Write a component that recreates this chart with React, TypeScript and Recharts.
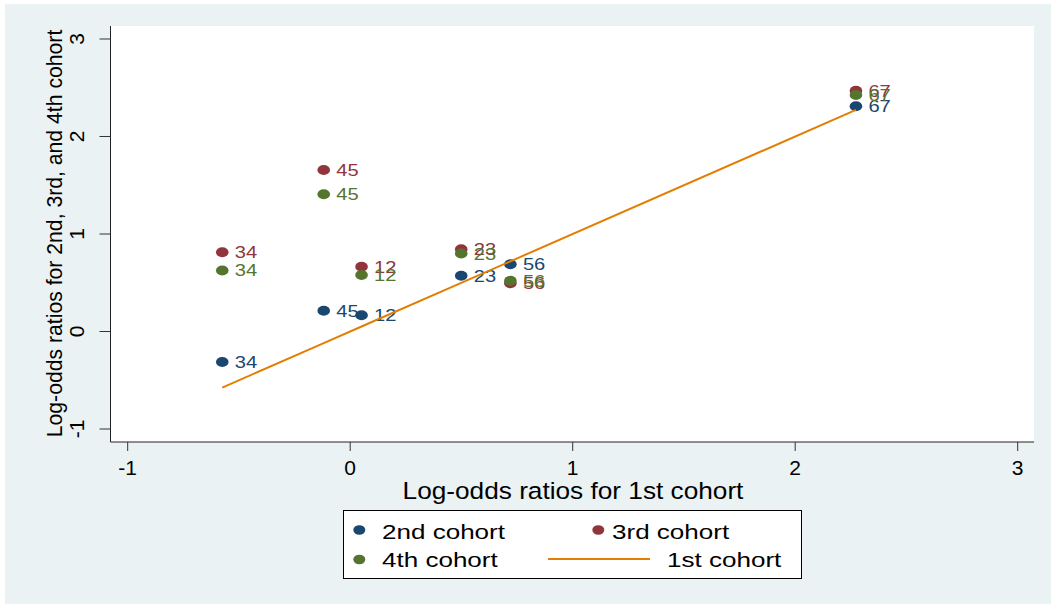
import React from 'react';
import { ScatterChart, Scatter, XAxis, YAxis, CartesianGrid } from 'recharts';

// ---- data ----
const pairLabels = ['12', '23', '34', '45', '56', '67'];
const firstCohort = [0.051, 0.499, -0.575, -0.119, 0.72, 2.273];
const secondCohort = [0.166, 0.571, -0.313, 0.212, 0.69, 2.311];
const thirdCohort = [0.665, 0.844, 0.813, 1.656, 0.495, 2.469];
const fourthCohort = [0.579, 0.8, 0.626, 1.408, 0.52, 2.426];
const xTicks = [-1, 0, 1, 2, 3];
const yTicks = [-1, 0, 1, 2, 3];
const legendNames = ['2nd cohort', '3rd cohort', '4th cohort', '1st cohort'];

const COLORS = { c2: '#1a476f', c3: '#90353b', c4: '#55752f', c1: '#e37e00' };
const FONT = '"Liberation Sans", Arial, Helvetica, sans-serif';

const build = (ys: number[]) =>
  firstCohort.map((x, i) => ({ x, y: ys[i], label: pairLabels[i] }));

const s2 = build(secondCohort);
const s3 = build(thirdCohort);
const s4 = build(fourthCohort);
const lineData = [...firstCohort].sort((a, b) => a - b).map((v) => ({ x: v, y: v }));

const WideText = ({ x, y, sx, size, fill, anchor, children }: any) => (
  <text
    transform={`translate(${x},${y}) scale(${sx},1)`}
    x={0}
    y={0}
    fontSize={size}
    fontFamily={FONT}
    fill={fill}
    textAnchor={anchor || 'start'}
  >
    {children}
  </text>
);

const makeShape = (color: string) => (props: any) => {
  const { cx, cy, payload } = props;
  if (cx == null || cy == null) return <g />;
  return (
    <g>
      <ellipse cx={cx} cy={cy} rx={6.3} ry={5} fill={color} />
      <WideText x={cx + 12.5} y={cy + 6} sx={1.22} size={16.5} fill={color}>
        {payload.label}
      </WideText>
    </g>
  );
};

const XTick = (props: any) => {
  const { x, y, payload } = props;
  return (
    <text x={x} y={y + 22} textAnchor="middle" fontSize={21} fontFamily={FONT} fill="#000">
      {payload.value}
    </text>
  );
};

const YTick = (props: any) => {
  const { x, y, payload } = props;
  const tx = x - 13.5;
  return (
    <text
      x={tx}
      y={y}
      textAnchor="middle"
      fontSize={21}
      fontFamily={FONT}
      fill="#000"
      transform={`rotate(-90, ${tx}, ${y})`}
    >
      {payload.value}
    </text>
  );
};

const CW = 1046;
const CH = 600;

export default function App() {
  return (
    <div style={{ position: 'absolute', left: 0, top: 0, width: 1051, height: 604, background: '#ffffff', overflow: 'hidden' }}>
      <div style={{ position: 'absolute', left: 5, top: 4, width: CW, height: CH, background: '#eaf2f3' }}>
        <ScatterChart
          width={CW}
          height={CH}
          margin={{ top: 22, right: 17, bottom: 122, left: 0 }}
          style={{ position: 'absolute', left: 0, top: 0 }}
        >
          <rect x={105.5} y={22} width={923.5} height={416} fill="#ffffff" />
          <CartesianGrid vertical={false} stroke="#eaf2f3" strokeWidth={2} fill="#ffffff" />
          <XAxis
            type="number"
            dataKey="x"
            domain={[-1.0773, 3.0733]}
            ticks={xTicks}
            allowDataOverflow
            height={40}
            tickSize={9}
            tickMargin={2}
            axisLine={{ stroke: '#222', strokeWidth: 1 }}
            tickLine={{ stroke: '#333', strokeWidth: 1 }}
            tick={<XTick />}
            interval={0}
          />
          <YAxis
            type="number"
            dataKey="y"
            domain={[-1.1333, 3.1333]}
            ticks={yTicks}
            allowDataOverflow
            width={105.5}
            tickSize={11}
            tickMargin={2}
            axisLine={{ stroke: '#222', strokeWidth: 1 }}
            tickLine={{ stroke: '#333', strokeWidth: 1 }}
            tick={<YTick />}
            interval={0}
          />
          <Scatter data={s2} fill={COLORS.c2} shape={makeShape(COLORS.c2)} isAnimationActive={false} />
          <Scatter data={s3} fill={COLORS.c3} shape={makeShape(COLORS.c3)} isAnimationActive={false} />
          <Scatter data={s4} fill={COLORS.c4} shape={makeShape(COLORS.c4)} isAnimationActive={false} />
          <Scatter
            data={lineData}
            fill={COLORS.c1}
            line={{ stroke: COLORS.c1, strokeWidth: 2 }}
            lineType="joint"
            shape={() => <g />}
            isAnimationActive={false}
          />
        </ScatterChart>
        <svg width={CW} height={CH} style={{ position: 'absolute', left: 0, top: 0, pointerEvents: 'none' }}>
          <WideText x={568} y={495} sx={1.07} size={24.5} fill="#000" anchor="middle">
            Log-odds ratios for 1st cohort
          </WideText>
          <text
            x={57}
            y={229.5}
            textAnchor="middle"
            fontSize={21.2}
            fontFamily={FONT}
            fill="#000"
            transform={`rotate(-90, 57, 229.5)`}
          >
            Log-odds ratios for 2nd, 3rd, and 4th cohort
          </text>
          {/* legend */}
          <g transform="translate(-5,-4)">
            <rect x={343.5} y={510.5} width={458} height={68} fill="#ffffff" stroke="#000" strokeWidth={1} />
            <ellipse cx={359.3} cy={530} rx={6} ry={4.8} fill={COLORS.c2} />
            <WideText x={382} y={538.5} sx={1.24} size={21} fill="#000">{legendNames[0]}</WideText>
            <ellipse cx={598.3} cy={530} rx={6} ry={4.8} fill={COLORS.c3} />
            <WideText x={612} y={538.5} sx={1.24} size={21} fill="#000">{legendNames[1]}</WideText>
            <ellipse cx={359.3} cy={559.5} rx={6} ry={4.8} fill={COLORS.c4} />
            <WideText x={382} y={567} sx={1.24} size={21} fill="#000">{legendNames[2]}</WideText>
            <line x1={548} y1={559} x2={650} y2={559} stroke={COLORS.c1} strokeWidth={2} />
            <WideText x={667} y={567} sx={1.24} size={21} fill="#000">{legendNames[3]}</WideText>
          </g>
        </svg>
      </div>
    </div>
  );
}
